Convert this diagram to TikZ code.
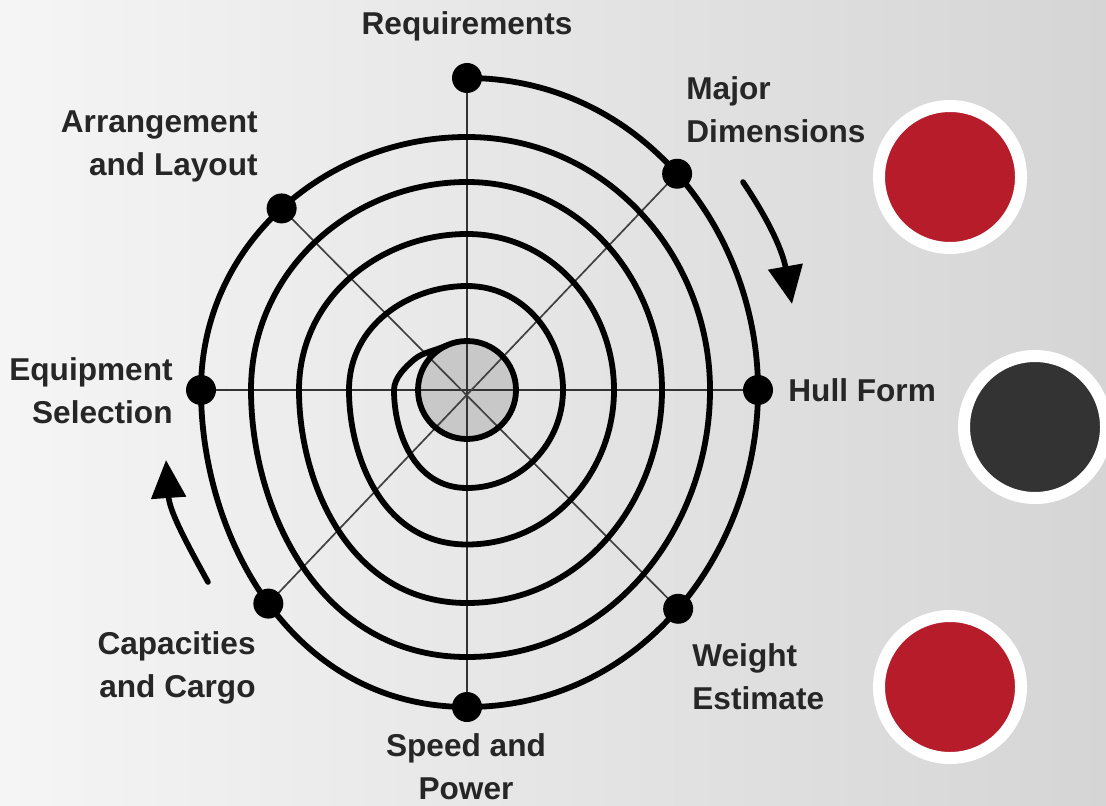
\documentclass[tikz,border=0pt]{standalone}
\usepackage{fontspec}
\setmainfont{Liberation Sans}
\usetikzlibrary{arrows.meta,backgrounds}

\definecolor{bgleft}{RGB}{246,245,246}
\definecolor{bgright}{RGB}{213,213,213}
\definecolor{accentred}{RGB}{183,28,43}
\definecolor{accentdark}{RGB}{51,51,51}
\definecolor{hubgray}{RGB}{200,200,200}
\definecolor{labelgray}{RGB}{38,38,38}

\tikzset{
  spiralline/.style={line width=2.9pt, black},
  axisline/.style={line width=1.3pt, black!80},
  diagline/.style={line width=0.85pt, black!75},
  stagedot/.style={circle, fill=black, inner sep=0pt, minimum size=15pt},
  lbl/.style={font=\fontsize{15.8}{21.5}\selectfont\bfseries, text=labelgray, inner sep=0pt},
  flowarrow/.style={line width=2.8pt, line cap=round, -{Triangle[length=19pt,width=17pt]}},
  badge/.style={circle, draw=white, line width=6pt, minimum size=71pt, inner sep=0pt},
}

\begin{document}
\begin{tikzpicture}[x=0.5pt,y=0.5pt]
\begin{scope}[on background layer]
  \shade[left color=bgleft, right color=bgright] (0,0) rectangle (1106,805);
\end{scope}
\useasboundingbox (0,0) rectangle (1106,805);

\begin{scope}[shift={(467,415)}]
  \coordinate (c) at (0,0);
  \coordinate (t1) at (0,312);
  \coordinate (r1) at (291,0);
  \coordinate (b1) at (0,-317);
  \coordinate (l1) at (-266,0);

  % the design spiral, clockwise from the outer top point inwards
  \draw[spiralline] (t1)
    .. controls +(172.3,0) and +(0,160.7) .. (r1) coordinate[pos=0.5] (ne)
    .. controls +(0,-160.7) and +(175.1,0) .. (b1) coordinate[pos=0.5] (se)
    .. controls +(-175.1,0) and +(0,-146.9) .. (l1) coordinate[pos=0.5] (sw)
    .. controls +(0,146.9) and +(-139.7,0) .. (0,253) coordinate[pos=0.5] (nw)
    .. controls +(139.7,0) and +(0,134.2) .. (243,0)
    .. controls +(0,-134.2) and +(147.5,0) .. (0,-267)
    .. controls +(-147.5,0) and +(0,-119.3) .. (-216,0)
    .. controls +(0,119.3) and +(-114.9,0) .. (0,208)
    .. controls +(114.9,0) and +(0,107.7) .. (195,0)
    .. controls +(0,-107.7) and +(117.6,0) .. (0,-213)
    .. controls +(-117.6,0) and +(0,-92.8) .. (-168,0)
    .. controls +(0,92.8) and +(-86.2,0) .. (0,156)
    .. controls +(86.2,0) and +(0,81.2) .. (147,0)
    .. controls +(0,-81.2) and +(85.3,0) .. (0,-154.5)
    .. controls +(-85.3,0) and +(0,-65.2) .. (-118,0)
    .. controls +(0,65.2) and +(-57.4,0) .. (0,104)
    .. controls +(57.4,0) and +(0,53) .. (96,0)
    .. controls +(0,-53) and +(54.1,0) .. (0,-98)
    .. controls +(-54.1,0) and +(0,-40.3) .. (-73,0)
    .. controls +(0,12) and +(-9.1,-7.8) .. (150:61)
    .. controls +(8.3,7.2) and +(-10,-4.7) .. (115:49);

  % hub and radial lines behind the spiral
  \begin{scope}[on background layer]
    \fill[hubgray] (c) circle (49);
    \draw[axisline] (t1) -- (b1);
    \draw[axisline] (l1) -- (r1);
    \draw[diagline] (ne) -- (sw);
    \draw[diagline] (nw) -- (se);
  \end{scope}
  \draw[spiralline] (c) circle (49);

  % stage markers
  \node[stagedot] (req) at (t1) {};
  \node[stagedot] (dim) at (ne) {};
  \node[stagedot] (hull) at (r1) {};
  \node[stagedot] (wgt) at (se) {};
  \node[stagedot] (spd) at (b1) {};
  \node[stagedot] (cap) at (sw) {};
  \node[stagedot] (equ) at (l1) {};
  \node[stagedot] (arr) at (nw) {};
\end{scope}

% stage labels
\node[lbl, anchor=north] (reqlbl) at (467,793.3) {Requirements};
\node[lbl, anchor=north west, align=left] (dimlbl) at (686,728.3) {Major\\Dimensions};
\node[lbl, anchor=north west] (hulllbl) at (788,426.7) {Hull Form};
\node[lbl, anchor=north west, align=left] (wgtlbl) at (692,161.7) {Weight\\Estimate};
\node[lbl, anchor=north, align=center] (spdlbl) at (466,71.7) {Speed and\\Power};
\node[lbl, anchor=north east, align=right] (caplbl) at (256,174.3) {Capacities\\and Cargo};
\node[lbl, anchor=north east, align=right] (equlbl) at (173,448.3) {Equipment\\Selection};
\node[lbl, anchor=north east, align=right] (arrlbl) at (258,695) {Arrangement\\and Layout};

% direction arrows
\coordinate (rightstart) at (743,623);
\coordinate (righttip) at (792,501);
\coordinate (leftstart) at (208,223);
\coordinate (lefttip) at (166,345);
\draw[flowarrow] (rightstart) to[out=-56, in=100] (righttip);
\draw[flowarrow] (leftstart) to[out=119, in=-86] (lefttip);

% accent badges
\node[badge, fill=accentred] (badgetop) at (950,628) {};
\node[badge, fill=accentdark] (badgemid) at (1035,378) {};
\node[badge, fill=accentred] (badgelow) at (950,118) {};
\end{tikzpicture}
\end{document}
